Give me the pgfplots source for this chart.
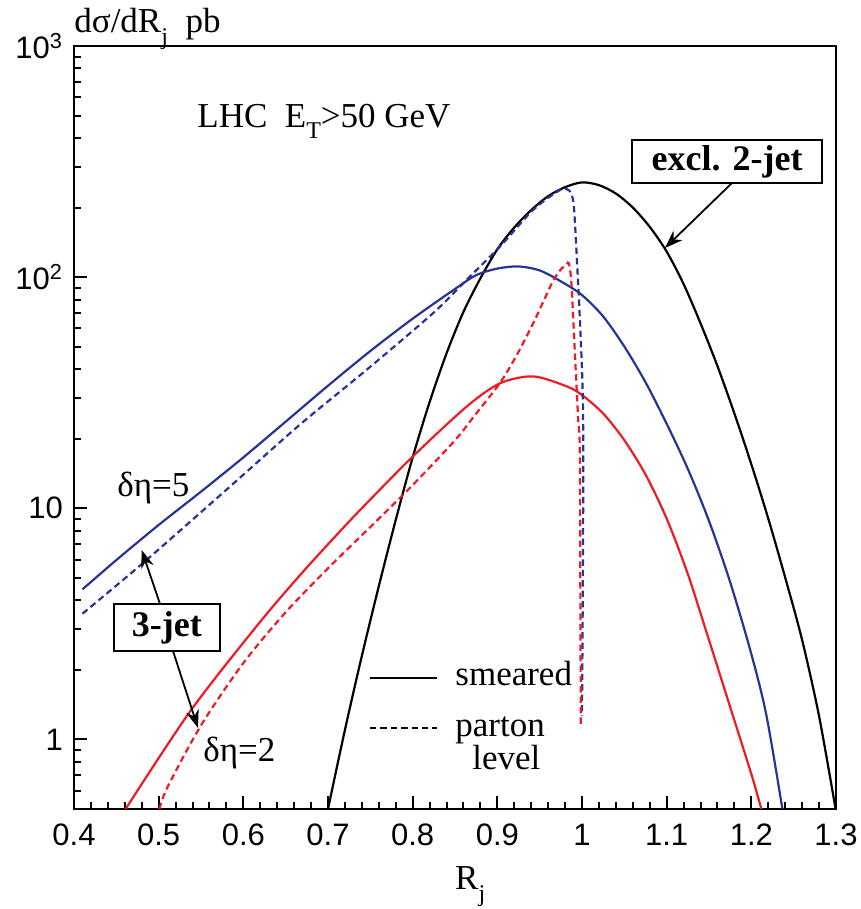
\documentclass[border=0pt]{standalone}
\usepackage{pgfplots}
\pgfplotsset{compat=1.18}
\usepackage{fontspec}
\setmainfont{Liberation Serif}
\newfontfamily\sansf{Liberation Sans}
\usetikzlibrary{arrows.meta}
\definecolor{cblue}{RGB}{40,52,148}
\definecolor{cred}{RGB}{237,28,36}
\newcommand\txt{\rmfamily\fontsize{17.5}{21}\selectfont}
\newcommand\btxt{\rmfamily\fontsize{18}{21}\selectfont\bfseries}
\newcommand\sub[1]{\raisebox{-0.32em}{\fontsize{12}{12}\selectfont #1}}
\begin{document}
\begin{tikzpicture}
\begin{axis}[
  scale only axis, width=381pt, height=381.5pt,
  xmin=0.4, xmax=1.3, ymode=log, ymin=0.5, ymax=1000,
  xtick={0.4,0.5,0.6,0.7,0.8,0.9,1,1.1,1.2,1.3},
  xticklabels={0.4,0.5,0.6,0.7,0.8,0.9,1,1.1,1.2,1.3},
  minor xtick={0.42,0.44,0.46,0.48,0.52,0.54,0.56,0.58,0.62,0.64,0.66,0.68,0.72,0.74,0.76,0.78,0.82,0.84,0.86,0.88,0.92,0.94,0.96,0.98,1.02,1.04,1.06,1.08,1.12,1.14,1.16,1.18,1.22,1.24,1.26,1.28},
  ytick={1,10,100,1000},
  yticklabels={1,10,10\textsuperscript{2},10\textsuperscript{3}},
  minor ytick={0.6,0.7,0.8,0.9,2,3,4,5,6,7,8,9,20,30,40,50,60,70,80,90,200,300,400,500,600,700,800,900},
  tick pos=left, tick align=inside,
  major tick length=6.5pt, minor tick length=3.3pt,
  every tick/.style={black, line width=1pt},
  axis line style={line width=1.2pt},
  ticklabel style={font=\sansf\fontsize{15.5}{18}\selectfont},
  xticklabel style={yshift=-4pt},
  yticklabel style={xshift=-2pt},
  clip mode=individual,
]
% black: excl. 2-jet smeared
\addplot[black, line width=1.1pt, smooth] coordinates {
(0.700,0.5) (0.72,1.1) (0.74,2.3) (0.76,4.6) (0.78,8.9) (0.80,16.6) (0.82,28.8)
(0.84,46.8) (0.86,70.8) (0.88,98.8) (0.90,132) (0.92,164) (0.94,195) (0.96,224)
(0.98,245) (1.00,257) (1.02,250) (1.04,230) (1.06,200) (1.08,165) (1.10,129)
(1.12,93.3) (1.14,63.1) (1.16,41.2) (1.18,25.7) (1.20,15.5) (1.22,9.02) (1.24,5.01)
(1.26,2.69) (1.28,1.26) (1.2995,0.5)};
% blue solid: deta=5 smeared
\addplot[cblue, line width=1.1pt, smooth] coordinates {
(0.41,4.46) (0.45,5.97) (0.50,8.47) (0.55,11.8) (0.60,16.6) (0.65,23.7)
(0.70,33.9) (0.75,47.9) (0.80,66.1) (0.85,88.9) (0.875,102) (0.90,108.9)
(0.925,111.2) (0.95,106.9) (0.975,95.9) (1.00,83.6) (1.025,67.6) (1.05,50.1)
(1.075,35.1) (1.10,23.2) (1.125,14.8) (1.15,8.81) (1.175,4.79) (1.20,2.34)
(1.2178,1.27) (1.2367,0.5)};
% red solid: deta=2 smeared
\addplot[cred, line width=1.1pt, smooth] coordinates {
(0.461,0.5) (0.537,1.32) (0.6157,3.09) (0.6668,5.13) (0.714,7.94) (0.7455,10.5)
(0.8005,16.8) (0.8636,27.5) (0.903,34.7) (0.9423,37.2) (0.9817,33.7) (1.00,30.9)
(1.025,25.7) (1.05,19.7) (1.075,14.0) (1.10,9.02) (1.125,5.19) (1.15,2.69)
(1.175,1.38) (1.20,0.708) (1.2118,0.5)};
% blue dashed: deta=5 parton
\addplot[cblue, line width=1.1pt, dash pattern=on 3.2pt off 2pt, smooth] coordinates {
(0.41,3.5) (0.4818,5.81) (0.5803,12.05) (0.6668,23.0) (0.7455,39.7) (0.8242,69.9)
(0.8636,97.3) (0.903,135.5) (0.9423,195.4) (0.9737,238) (0.9825,240) (0.9875,229)
(0.9905,200) (0.9934,131) (0.9973,67.6) (1.0005,34.8) (1.0015,17.9) (1.001,5)
(1.000,1.26)};
% red dashed: deta=2 parton
\addplot[cred, line width=1.1pt, dash pattern=on 3.2pt off 2pt, smooth] coordinates {
(0.501,0.5) (0.51,0.617) (0.55,1.15) (0.60,2.14) (0.65,3.55) (0.70,5.5)
(0.75,8.3) (0.80,12.6) (0.85,19.7) (0.875,25.7) (0.903,34.8) (0.9225,45.7)
(0.9423,63.1) (0.955,79.4) (0.966,96.6) (0.975,108) (0.9817,113.5) (0.9845,114.8)
(0.9875,94) (0.9914,48.5) (0.9953,25) (0.9974,17.9) (0.998,5) (0.9986,1.12)};

% annotations
\node[anchor=base west, inner sep=0, font=\txt] at ([yshift=6.5pt]rel axis cs:0,1) {dσ/dR\sub{j}\ \ pb};
\node[anchor=base west, inner sep=0, font=\txt] at (rel axis cs:0.1614,0.8938) {LHC\ \ E\sub{T}>50 GeV};
\draw[line width=0.9pt, -{Stealth[length=9pt,width=6.5pt]}] (rel axis cs:0.8635,0.8204) -- (rel axis cs:0.7756,0.7353);
\node[draw, line width=0.9pt, fill=white, minimum width=95pt, minimum height=21.5pt, inner sep=1pt, font=\btxt] at (rel axis cs:0.857,0.8486) {excl. 2-jet};
\draw[line width=0.9pt, -{Stealth[length=9pt,width=6.5pt]}] (rel axis cs:0.1129,0.2687) -- (rel axis cs:0.0888,0.3394);
\draw[line width=0.9pt, -{Stealth[length=9pt,width=6.5pt]}] (rel axis cs:0.1299,0.2071) -- (rel axis cs:0.1627,0.1062);
\node[draw, line width=0.9pt, fill=white, minimum width=53pt, minimum height=23.5pt, inner sep=1pt, font=\btxt] at (rel axis cs:0.1220,0.2379) {3-jet};
\node[anchor=base west, inner sep=0, font=\txt] at (rel axis cs:0.0564,0.4102) {δη=5};
\node[anchor=base west, inner sep=0, font=\txt] at (rel axis cs:0.1693,0.0616) {δη=2};
\draw[black, line width=1.1pt] (rel axis cs:0.3885,0.1717) -- (rel axis cs:0.4764,0.1717);
\draw[black, line width=1.1pt, dash pattern=on 3.2pt off 2pt] (rel axis cs:0.3885,0.1062) -- (rel axis cs:0.4764,0.1062);
\node[anchor=base west, inner sep=0, font=\txt] at (rel axis cs:0.5,0.1625) {smeared};
\node[anchor=base west, inner sep=0, font=\txt] at (rel axis cs:0.5,0.0944) {parton};
\node[anchor=base west, inner sep=0, font=\txt] at (rel axis cs:0.5223,0.052) {level};
\node[anchor=base, inner sep=0, font=\txt] at (rel axis cs:0.52,-0.106) {R\sub{j}};
\end{axis}
\pgfresetboundingbox
\path ([shift={(-37pt,-50pt)}]current axis.south west) rectangle ([shift={(12.5pt,23pt)}]current axis.north east);
\end{tikzpicture}
\end{document}
